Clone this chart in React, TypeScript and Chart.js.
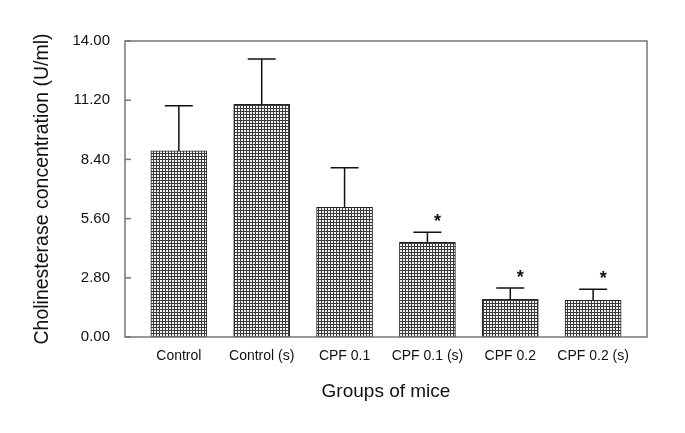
import React, { useEffect, useRef } from "react";
import { Chart, registerables } from "chart.js";

Chart.register(...registerables);

const categories = ["Control", "Control (s)", "CPF 0.1", "CPF 0.1 (s)", "CPF 0.2", "CPF 0.2 (s)"];
const means = [8.8, 11.0, 6.13, 4.48, 1.78, 1.74];
const errors = [2.14, 2.15, 1.88, 0.47, 0.54, 0.52];
const significant = [false, false, false, true, true, true];
const yTicks = [0, 2.8, 5.6, 8.4, 11.2, 14];

const FONT = "'Liberation Sans', Arial, sans-serif";

function makePattern(): CanvasPattern | string {
  const c = document.createElement("canvas");
  c.width = 3;
  c.height = 3;
  const g = c.getContext("2d");
  if (!g) return "#888";
  g.fillStyle = "#f4f4f4";
  g.fillRect(0, 0, 3, 3);
  g.fillStyle = "#3a3a3a";
  g.fillRect(0, 0, 3, 1);
  g.fillRect(0, 0, 1, 3);
  const p = g.createPattern(c, "repeat");
  return p || "#888";
}

const framePlugin = {
  id: "frame",
  afterDatasetsDraw(chart: any) {
    const { ctx, chartArea, scales } = chart;
    const ys = scales.y;
    ctx.save();
    const meta = chart.getDatasetMeta(0);
    ctx.strokeStyle = "#111";
    ctx.lineWidth = 1.5;
    meta.data.forEach((bar: any, i: number) => {
      const top = ys.getPixelForValue(means[i] + errors[i]);
      ctx.beginPath();
      ctx.moveTo(bar.x, bar.y);
      ctx.lineTo(bar.x, top);
      ctx.moveTo(bar.x - 14, top);
      ctx.lineTo(bar.x + 14, top);
      ctx.stroke();
      if (significant[i]) {
        ctx.fillStyle = "#111";
        ctx.font = "bold 18px " + FONT;
        ctx.textAlign = "center";
        ctx.textBaseline = "middle";
        ctx.fillText("*", bar.x + 10, top - 10);
      }
    });
    ctx.strokeStyle = "#777";
    ctx.lineWidth = 1.5;
    ctx.strokeRect(chartArea.left, chartArea.top, chartArea.right - chartArea.left, chartArea.bottom - chartArea.top);
    yTicks.forEach((v) => {
      const py = ys.getPixelForValue(v);
      ctx.beginPath();
      ctx.moveTo(chartArea.left, py);
      ctx.lineTo(chartArea.left + 6, py);
      ctx.stroke();
    });
    ctx.restore();
  },
};

export default function App() {
  const ref = useRef<HTMLCanvasElement | null>(null);
  useEffect(() => {
    document.body.style.margin = "0";
    const canvas = ref.current;
    if (!canvas) return;
    const chart = new Chart(canvas, {
      type: "bar",
      data: {
        datasets: [
          {
            data: means.map((v, i) => ({ x: i, y: v })),
            backgroundColor: makePattern() as any,
            borderColor: "#222",
            borderWidth: 1,
            barThickness: 56,
          },
        ],
      },
      options: {
        responsive: false,
        animation: false,
        layout: { padding: { top: 41, right: 38, left: 0, bottom: 0 } },
        plugins: { legend: { display: false }, tooltip: { enabled: false } },
        scales: {
          x: {
            type: "linear",
            offset: false,
            min: -0.65,
            max: 5.65,
            afterBuildTicks: (scale: any) => {
              scale.ticks = categories.map((_, i) => ({ value: i }));
            },
            afterFit: (scale: any) => {
              scale.height = 96;
            },
            grid: { display: false, drawTicks: false, offset: false },
            border: { display: false },
            ticks: {
              autoSkip: false,
              maxRotation: 0,
              padding: 11,
              color: "#111",
              font: { family: FONT, size: 14 },
              callback: (v: any) => categories[Math.round(Number(v))] ?? "",
            },
            title: {
              display: true,
              text: "Groups of mice",
              color: "#111",
              font: { family: FONT, size: 19 },
              padding: { top: 0, bottom: 30 },
            },
          },
          y: {
            min: 0,
            max: 14,
            afterBuildTicks: (scale: any) => {
              scale.ticks = yTicks.map((v) => ({ value: v }));
            },
            afterFit: (scale: any) => {
              scale.width = 125;
            },
            grid: { display: false, drawTicks: false },
            border: { display: false },
            ticks: {
              padding: 15,
              color: "#111",
              font: { family: FONT, size: 15 },
              callback: (v: any) => Number(v).toFixed(2),
            },
            title: {
              display: true,
              text: "Cholinesterase concentration (U/ml)",
              color: "#111",
              font: { family: FONT, size: 19.5 },
              padding: { top: 31, bottom: 0 },
            },
          },
        },
      },
      plugins: [framePlugin],
    } as any);
    return () => chart.destroy();
  }, []);
  return <canvas ref={ref} width={685} height={433} style={{ display: "block" }} />;
}
